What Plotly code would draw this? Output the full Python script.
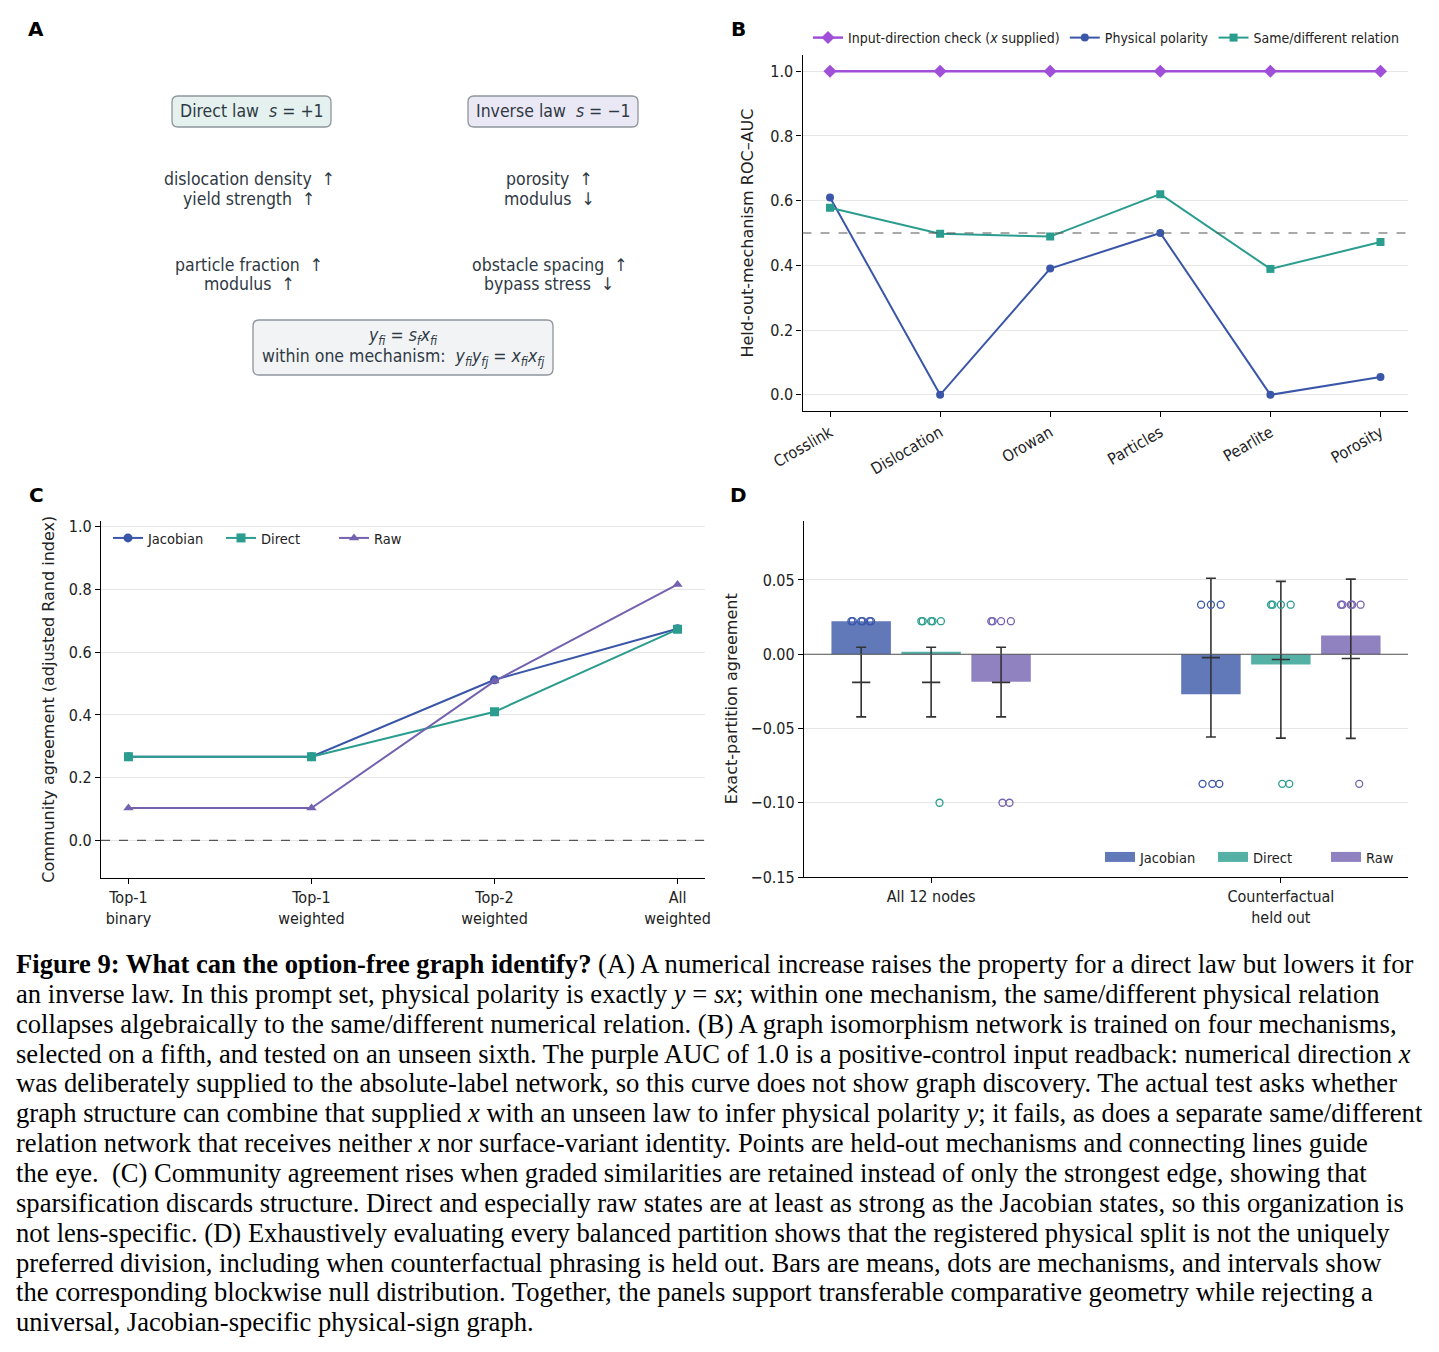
import plotly.graph_objects as go

W, H = 1439, 1352
OFF = 8  # page body margin of the html page

# ---------- panel B: held-out mechanism ROC-AUC ----------
mechanisms = ['Crosslink', 'Dislocation', 'Orowan', 'Particles', 'Pearlite', 'Porosity']
auc_input_check = [1.0, 1.0, 1.0, 1.0, 1.0, 1.0]
auc_polarity = [0.61, 0.0, 0.39, 0.50, 0.0, 0.055]
auc_same_diff = [0.578, 0.498, 0.489, 0.62, 0.389, 0.472]

# ---------- panel C: community agreement ----------
sparsity = ['Top-1<br>binary', 'Top-1<br>weighted', 'Top-2<br>weighted', 'All<br>weighted']
ari_jacobian = [0.267, 0.267, 0.512, 0.675]
ari_direct = [0.267, 0.267, 0.41, 0.673]
ari_raw = [0.103, 0.103, 0.508, 0.816]

# ---------- panel D: exact-partition agreement ----------
conditions = ['All 12 nodes', 'Counterfactual<br>held out']
lenses = ['Jacobian', 'Direct', 'Raw']
mean_jacobian = [0.0221, -0.027]
mean_direct = [0.0016, -0.0069]
mean_raw = [-0.0185, 0.0126]
# mechanism-level dots (6 mechanisms) per condition
dots_jacobian = [[0.0222, 0.0222, 0.0222, 0.0222, 0.0222, 0.0222],
                 [0.0333, 0.0333, 0.0333, -0.0873, -0.0873, -0.0873]]
dots_direct = [[0.0222, 0.0222, 0.0222, 0.0222, 0.0222, -0.100],
               [0.0333, 0.0333, 0.0333, 0.0333, -0.0873, -0.0873]]
dots_raw = [[0.0222, 0.0222, 0.0222, 0.0222, -0.100, -0.100],
            [0.0333, 0.0333, 0.0333, 0.0333, 0.0333, -0.0873]]
# blockwise null: median, low, high
null_med_jacobian = [-0.019, -0.0023]
null_lo_jacobian = [-0.0422, -0.0557]
null_hi_jacobian = [0.0047, 0.0511]
null_med_direct = [-0.019, -0.0036]
null_lo_direct = [-0.0422, -0.0565]
null_hi_direct = [0.0047, 0.049]
null_med_raw = [-0.019, -0.0029]
null_lo_raw = [-0.0422, -0.0567]
null_hi_raw = [0.0047, 0.0505]

caption_lines = [
    '<b>Figure 9: What can the option-free graph identify?</b> (A) A numerical increase raises the property for a direct law but lowers it for',
    'an inverse law. In this prompt set, physical polarity is exactly <i>y</i> = <i>sx</i>; within one mechanism, the same/different physical relation',
    'collapses algebraically to the same/different numerical relation. (B) A graph isomorphism network is trained on four mechanisms,',
    'selected on a fifth, and tested on an unseen sixth. The purple AUC of 1.0 is a positive-control input readback: numerical direction <i>x</i>',
    'was deliberately supplied to the absolute-label network, so this curve does not show graph discovery. The actual test asks whether',
    'graph structure can combine that supplied <i>x</i> with an unseen law to infer physical polarity <i>y</i>; it fails, as does a separate same/different',
    'relation network that receives neither <i>x</i> nor surface-variant identity. Points are held-out mechanisms and connecting lines guide',
    'the eye.  (C) Community agreement rises when graded similarities are retained instead of only the strongest edge, showing that',
    'sparsification discards structure. Direct and especially raw states are at least as strong as the Jacobian states, so this organization is',
    'not lens-specific. (D) Exhaustively evaluating every balanced partition shows that the registered physical split is not the uniquely',
    'preferred division, including when counterfactual phrasing is held out. Bars are means, dots are mechanisms, and intervals show',
    'the corresponding blockwise null distribution. Together, the panels support transferable comparative geometry while rejecting a',
    'universal, Jacobian-specific physical-sign graph.',
]

BLUE = '#3a56a8'
TEAL = '#2a9d8f'
RAWP = '#7462b0'
MAGENTA = '#a04fd8'
FONT = 'DejaVu Sans Condensed, DejaVu Sans'
VFONT = 'DejaVu Sans'
INK = '#222222'


def px(x):
    return (x - OFF) / W


def py(y):
    return 1 - (y - OFF) / H


def rbox(x0, y0, x1, y1, r=6):
    # rounded rectangle path in paper coordinates (input in pixels)
    rx, ry = r / W, r / H
    X0, X1 = px(x0), px(x1)
    Y0, Y1 = py(y1), py(y0)
    return (f'M {X0+rx},{Y0} L {X1-rx},{Y0} Q {X1},{Y0} {X1},{Y0+ry} '
            f'L {X1},{Y1-ry} Q {X1},{Y1} {X1-rx},{Y1} L {X0+rx},{Y1} '
            f'Q {X0},{Y1} {X0},{Y1-ry} L {X0},{Y0+ry} Q {X0},{Y0} {X0+rx},{Y0} Z')


fig = go.Figure()

# ---- B traces
fig.add_trace(go.Scatter(x=mechanisms, y=auc_input_check, mode='lines+markers',
                         name='Input-direction check (<i>x</i> supplied)',
                         line=dict(color=MAGENTA, width=2.5),
                         marker=dict(symbol='diamond', size=10, color=MAGENTA),
                         xaxis='x', yaxis='y', legend='legend'))
fig.add_trace(go.Scatter(x=mechanisms, y=auc_polarity, mode='lines+markers',
                         name='Physical polarity', line=dict(color=BLUE, width=2),
                         marker=dict(symbol='circle', size=8, color=BLUE),
                         xaxis='x', yaxis='y', legend='legend'))
fig.add_trace(go.Scatter(x=mechanisms, y=auc_same_diff, mode='lines+markers',
                         name='Same/different relation', line=dict(color=TEAL, width=2),
                         marker=dict(symbol='square', size=8, color=TEAL),
                         xaxis='x', yaxis='y', legend='legend'))

# ---- C traces
for vals, nm, col, sym in [(ari_jacobian, 'Jacobian', BLUE, 'circle'),
                           (ari_direct, 'Direct', TEAL, 'square'),
                           (ari_raw, 'Raw', RAWP, 'triangle-up')]:
    fig.add_trace(go.Scatter(x=sparsity, y=vals, mode='lines+markers', name=nm,
                             line=dict(color=col, width=2),
                             marker=dict(symbol=sym, size=9, color=col),
                             xaxis='x2', yaxis='y2', legend='legend2'))

# ---- D traces
offsets = [-0.2, 0.0, 0.2]
jitter = [-0.028, 0.0, 0.028, -0.024, 0.004, 0.024]
d_series = [
    ('Jacobian', BLUE, mean_jacobian, dots_jacobian, null_med_jacobian, null_lo_jacobian, null_hi_jacobian),
    ('Direct', TEAL, mean_direct, dots_direct, null_med_direct, null_lo_direct, null_hi_direct),
    ('Raw', RAWP, mean_raw, dots_raw, null_med_raw, null_lo_raw, null_hi_raw),
]
for k, (nm, col, means, dots, med, lo, hi) in enumerate(d_series):
    xs = [i + offsets[k] for i in range(len(conditions))]
    fig.add_trace(go.Bar(x=xs, y=means, width=0.17, name=nm, showlegend=False,
                         marker=dict(color=col, opacity=0.8, line=dict(width=0)),
                         xaxis='x3', yaxis='y3'))
    # wide rectangular legend key
    fig.add_trace(go.Scatter(x=[None], y=[None], mode='lines', name=nm, opacity=0.8,
                             line=dict(color=col, width=10),
                             xaxis='x3', yaxis='y3', legend='legend3'))
for k, (nm, col, means, dots, med, lo, hi) in enumerate(d_series):
    xs = [i + offsets[k] for i in range(len(conditions))]
    fig.add_trace(go.Scatter(
        x=xs, y=med, mode='markers', showlegend=False,
        marker=dict(symbol='line-ew', size=13, line=dict(color='#333333', width=1.6)),
        error_y=dict(type='data', symmetric=False,
                     array=[h - m for h, m in zip(hi, med)],
                     arrayminus=[m - l for m, l in zip(med, lo)],
                     color='#333333', thickness=1.6, width=5),
        xaxis='x3', yaxis='y3'))
for k, (nm, col, means, dots, med, lo, hi) in enumerate(d_series):
    dx, dy = [], []
    for i, vals in enumerate(dots):
        for j, v in enumerate(vals):
            dx.append(i + offsets[k] + jitter[j])
            dy.append(v)
    fig.add_trace(go.Scatter(x=dx, y=dy, mode='markers', showlegend=False,
                             marker=dict(symbol='circle-open', size=7,
                                         line=dict(color=col, width=1.3), color=col),
                             xaxis='x3', yaxis='y3'))

axis_common = dict(showline=True, linecolor='black', linewidth=1.2, ticks='outside',
                   ticklen=5, tickwidth=1, tickcolor='black', zeroline=False,
                   automargin=False, tickfont=dict(family=FONT, size=16, color=INK))
ygrid = dict(showgrid=True, gridcolor='#e6e6e6', gridwidth=1)
title_font = dict(family=VFONT, size=16, color=INK)

fig.update_layout(
    width=W, height=H, margin=dict(l=0, r=0, t=0, b=0, autoexpand=False),
    paper_bgcolor='white', plot_bgcolor='white',
    font=dict(family=FONT, color=INK),
    barmode='overlay',
    xaxis=dict(domain=[px(802.5), px(1408)], anchor='y', type='category',
               range=[-0.25, 5.25], tickangle=-30, showgrid=False, **axis_common),
    yaxis=dict(domain=[py(411), py(55)], anchor='x', range=[-0.05, 1.05],
               tickvals=[0, 0.2, 0.4, 0.6, 0.8, 1.0], tickformat='.1f',
               title=dict(text='Held-out-mechanism ROC–AUC', standoff=12, font=title_font),
               **ygrid, **axis_common),
    xaxis2=dict(domain=[px(101), px(705)], anchor='y2', type='category',
                range=[-0.15, 3.15], showgrid=False, **axis_common),
    yaxis2=dict(domain=[py(878), py(520.5)], anchor='x2', range=[-0.12, 1.02],
                tickvals=[0, 0.2, 0.4, 0.6, 0.8, 1.0], tickformat='.1f',
                title=dict(text='Community agreement (adjusted Rand index)', standoff=10,
                           font=title_font),
                **ygrid, **axis_common),
    xaxis3=dict(domain=[px(804), px(1408)], anchor='y3', range=[-0.3635, 1.3635],
                tickvals=[0, 1], ticktext=conditions, showgrid=False, **axis_common),
    yaxis3=dict(domain=[py(877), py(520.5)], anchor='x3', range=[-0.15, 0.09],
                tickvals=[-0.15, -0.10, -0.05, 0, 0.05], tickformat='.2f',
                title=dict(text='Exact-partition agreement', standoff=8, font=title_font),
                **ygrid, **axis_common),
    legend=dict(orientation='h', x=px(808), y=py(38), xanchor='left', yanchor='middle',
                bgcolor='rgba(0,0,0,0)', font=dict(family=FONT, size=14, color=INK),
                itemwidth=30, tracegroupgap=0),
    legend2=dict(orientation='h', x=px(108), y=py(538), xanchor='left', yanchor='middle',
                 bgcolor='rgba(0,0,0,0)', font=dict(family=FONT, size=14.5, color=INK),
                 itemwidth=30, entrywidth=68, entrywidthmode='pixels'),
    legend3=dict(orientation='h', x=px(1100), y=py(857), xanchor='left', yanchor='middle',
                 bgcolor='rgba(0,0,0,0)', font=dict(family=FONT, size=14.5, color=INK),
                 itemwidth=30, entrywidth=68, entrywidthmode='pixels'),
)

shapes = [
    dict(type='line', xref='x domain', yref='y', x0=0, x1=1, y0=0.5, y1=0.5,
         line=dict(color='#555555', width=1.1, dash='dash')),
    dict(type='line', xref='x2 domain', yref='y2', x0=0, x1=1, y0=0, y1=0,
         line=dict(color='#555555', width=1.1, dash='dash')),
    dict(type='line', xref='x3 domain', yref='y3', x0=0, x1=1, y0=0, y1=0,
         line=dict(color='#555555', width=1.1)),
    dict(type='path', xref='paper', yref='paper', path=rbox(172, 96, 331, 127),
         fillcolor='#e4f1ee', line=dict(color='#8f959c', width=1.3)),
    dict(type='path', xref='paper', yref='paper', path=rbox(468, 96, 638, 127),
         fillcolor='#ebe8f5', line=dict(color='#8f959c', width=1.3)),
    dict(type='path', xref='paper', yref='paper', path=rbox(253, 320, 553, 375),
         fillcolor='#f1f3f5', line=dict(color='#8f959c', width=1.3)),
]
fig.update_layout(shapes=shapes)

A_INK = '#2f3944'
ann = []
for lab, x, y in [('A', 36, 29), ('B', 738, 29), ('C', 36, 495), ('D', 738, 495)]:
    ann.append(dict(text=f'<b>{lab}</b>', x=px(x), y=py(y), xref='paper', yref='paper',
                    xanchor='center', yanchor='middle', showarrow=False,
                    font=dict(family=VFONT, size=20, color='black')))

panel_a_text = [
    ('Direct law  <i>s</i> = +1', 251.5, 111),
    ('Inverse law  <i>s</i> = −1', 553, 111),
    ('dislocation density  ↑', 249, 179),
    ('yield strength  ↑', 249, 199),
    ('porosity  ↑', 549, 179),
    ('modulus  ↓', 549, 199),
    ('particle fraction  ↑', 249, 265),
    ('modulus  ↑', 249, 284),
    ('obstacle spacing  ↑', 549, 265),
    ('bypass stress  ↓', 549, 284),
    ('<i>y<sub>fi</sub></i> = <i>s<sub>f</sub>x<sub>fi</sub></i>', 403, 336),
    ('within one mechanism:  <i>y<sub>fi</sub>y<sub>fj</sub></i> = <i>x<sub>fi</sub>x<sub>fj</sub></i>',
     403, 357),
]
for txt, x, y in panel_a_text:
    ann.append(dict(text=txt, x=px(x), y=py(y), xref='paper', yref='paper',
                    xanchor='center', yanchor='middle', showarrow=False, align='center',
                    font=dict(family=FONT, size=17.5, color=A_INK)))

for i, line in enumerate(caption_lines):
    ann.append(dict(text=line, x=px(14), y=py(964 + i * 29.85), xref='paper', yref='paper',
                    xanchor='left', yanchor='middle', showarrow=False, align='left',
                    font=dict(family='Liberation Serif', size=26.6, color='black')))
fig.update_layout(annotations=ann)

fig.write_html('out.html')
